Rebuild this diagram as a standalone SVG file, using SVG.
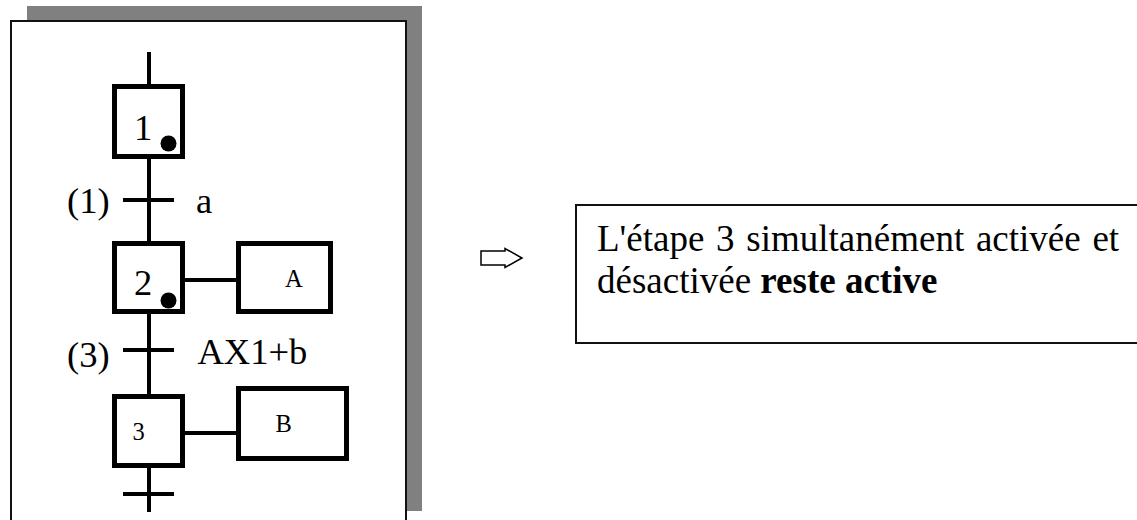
<svg xmlns="http://www.w3.org/2000/svg" width="1137" height="520" viewBox="0 0 1137 520">
<style>
  .lbl { font-family: "Liberation Serif", "Times New Roman", serif; font-size: 36.5px; fill: #000; }
  .sm { font-family: "Liberation Serif", "Times New Roman", serif; font-size: 24.5px; fill: #000; }
  .txt { font-family: "Liberation Serif", "Times New Roman", serif; font-size: 37px; fill: #000; }
  .box { fill: #fff; stroke: #000; stroke-width: 5; }
  .wire { stroke: #000; stroke-width: 4; fill: none; }
</style>
<rect width="1137" height="520" fill="#fff"/>
<g id="frame">
  <rect x="27" y="6" width="395" height="505" fill="#808080"/>
  <rect x="11" y="21" width="395" height="520" fill="#fff" stroke="#111" stroke-width="2"/>
</g>
<g id="connectors">
  <line class="wire" x1="149" y1="52" x2="149" y2="93"/>
  <line class="wire" x1="149" y1="159" x2="149" y2="241"/>
  <line class="wire" x1="149" y1="314" x2="149" y2="394"/>
  <line class="wire" x1="149" y1="468" x2="149" y2="512"/>
  <line class="wire" x1="123" y1="200" x2="174" y2="200"/>
  <line class="wire" x1="123" y1="350" x2="174" y2="350"/>
  <line class="wire" x1="123" y1="494" x2="174" y2="494"/>
  <line class="wire" x1="185" y1="280" x2="236" y2="280"/>
  <line class="wire" x1="185" y1="433" x2="236" y2="433"/>
</g>
<g id="step1">
  <rect class="box" x="114.5" y="86.5" width="68" height="70"/>
  <text class="lbl" x="134" y="140">1</text>
  <circle cx="168.5" cy="143.5" r="8" fill="#000"/>
</g>
<g id="step2">
  <rect class="box" x="114.5" y="243.5" width="68" height="68"/>
  <text class="lbl" x="134" y="295">2</text>
  <circle cx="168.5" cy="300.5" r="8" fill="#000"/>
</g>
<g id="step3">
  <rect class="box" x="114.5" y="396.5" width="68" height="69"/>
  <text class="sm" x="132.5" y="440">3</text>
</g>
<g id="actionA">
  <rect class="box" x="238.5" y="243.5" width="92" height="68"/>
  <text class="sm" x="285" y="287">A</text>
</g>
<g id="actionB">
  <rect class="box" x="238.5" y="388.5" width="108" height="70"/>
  <text class="sm" x="275.5" y="432">B</text>
</g>
<g id="transition1">
  <text class="lbl" x="67" y="213">(1)</text>
  <text class="lbl" x="196" y="213">a</text>
</g>
<g id="transition3">
  <text class="lbl" x="67" y="367">(3)</text>
  <text class="lbl" x="197.5" y="364">AX1+b</text>
</g>
<g id="arrow">
  <path d="M481,251 L505,251 L505,248.5 L522,258 L505,267.5 L505,265 L481,265 Z" fill="#fff" stroke="#000" stroke-width="1.5" stroke-linejoin="miter"/>
</g>
<g id="note">
  <rect x="576" y="205" width="570" height="138" fill="#fff" stroke="#111" stroke-width="2"/>
  <text class="txt" x="597" y="251" word-spacing="2.5">L'étape 3 simultanément activée et</text>
  <text class="txt" x="597" y="293">désactivée <tspan font-weight="bold">reste active</tspan></text>
</g>
</svg>
